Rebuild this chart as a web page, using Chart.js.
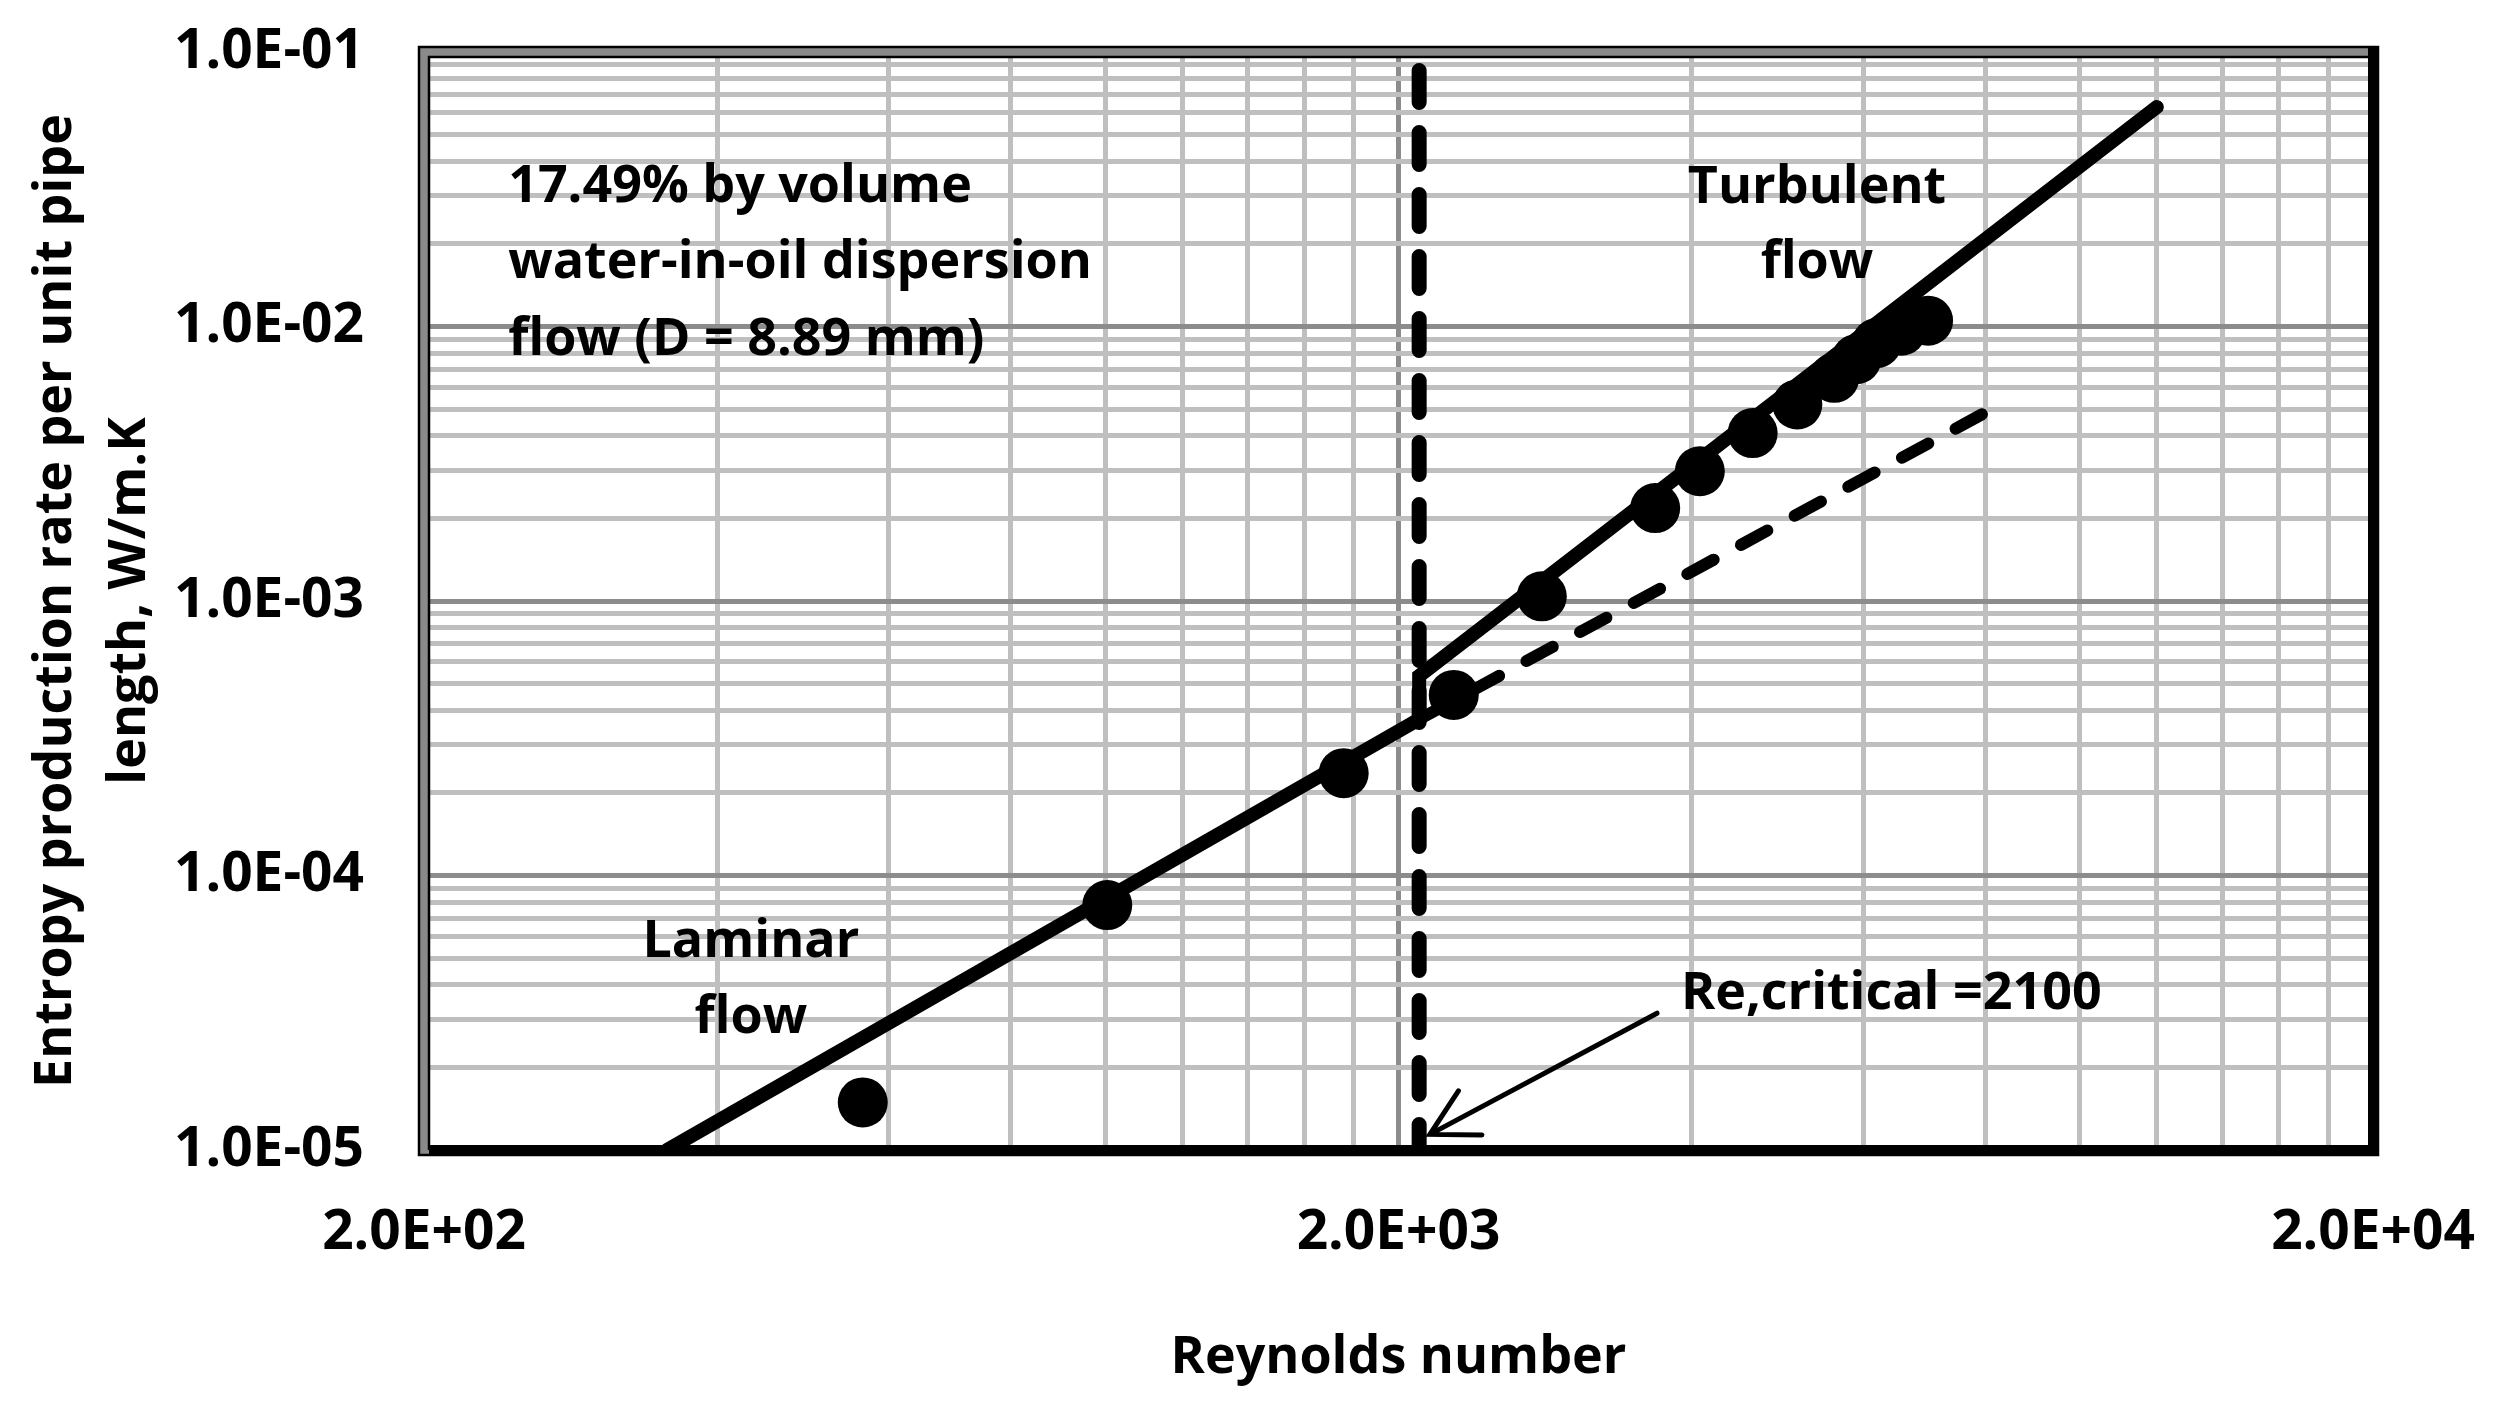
<!DOCTYPE html>
<html>
<head>
<meta charset="utf-8">
<script src="https://cdn.jsdelivr.net/npm/chart.js@4.4.1/dist/chart.umd.min.js"></script>
<style>
  html, body { margin: 0; padding: 0; background: #fff; }
  #wrap { width: 2505px; height: 1421px; }
</style>
</head>
<body>
<div id="wrap"><canvas id="chart" width="2505" height="1421"></canvas></div>
<script>
// measured points (Reynolds number vs entropy production rate)
const reynolds = [564, 1005, 1757, 2279, 2806, 3668, 4076, 4618, 5132, 5600, 5900, 6190, 6560, 6990];
const entropy  = [1.49e-5, 7.8e-5, 2.36e-4, 4.55e-4, 1.04e-3, 2.18e-3, 2.97e-3, 4.09e-3, 5.2e-3, 6.5e-3, 7.6e-3, 8.7e-3, 9.65e-3, 1.05e-2];

// model: laminar up to Re,critical, jump, then turbulent
const modelRe = [355, 2100, 2100, 12000];
const modelS  = [1e-5, 3.71e-4, 5.33e-4, 6.3e-2];

// laminar trend carried on past the transition (dashed)
const lamExtRe = [2100, 8070];
const lamExtS  = [3.71e-4, 4.94e-3];

const reCritical = 2100;
const critS = [1e-1, 1e-5];

// grid / tick values
const xGrid = [200, 400, 600, 800, 1000, 1200, 1400, 1600, 1800,
               2000, 4000, 6000, 8000, 10000, 12000, 14000, 16000, 18000, 20000];
const xLabels = [200, 2000, 20000];
const yGrid = [1e-5, 2e-5, 3e-5, 4e-5, 5e-5, 6e-5, 7e-5, 8e-5, 9e-5,
               1e-4, 2e-4, 3e-4, 4e-4, 5e-4, 6e-4, 7e-4, 8e-4, 9e-4,
               1e-3, 2e-3, 3e-3, 4e-3, 5e-3, 6e-3, 7e-3, 8e-3, 9e-3,
               1e-2, 2e-2, 3e-2, 4e-2, 5e-2, 6e-2, 7e-2, 8e-2, 9e-2, 1e-1];
const yLabels = [1e-5, 1e-4, 1e-3, 1e-2, 1e-1];

const FONT = "'Open Sans', sans-serif";

function sci(v) {
  const [m, e] = v.toExponential(1).split('e');
  const n = parseInt(e, 10);
  return m + 'E' + (n < 0 ? '-' : '+') + String(Math.abs(n)).padStart(2, '0');
}

// text annotations, placed in data units
const notes = [
  { text: '17.49% by volume',        re: 244,  s: 0.0284,  align: 'left' },
  { text: 'water-in-oil dispersion', re: 244,  s: 0.01502, align: 'left' },
  { text: 'flow (D = 8.89 mm)',      re: 244,  s: 7.87e-3, align: 'left' },
  { text: 'Turbulent',               re: 5376, s: 0.0282,  align: 'center' },
  { text: 'flow',                    re: 5376, s: 0.01502, align: 'center' },
  { text: 'Laminar',                 re: 433,  s: 5.05e-5, align: 'center' },
  { text: 'flow',                    re: 433,  s: 2.67e-5, align: 'center' },
  { text: 'Re,critical =2100',       re: 3898, s: 3.27e-5, align: 'left' },
];
const arrow = { from: { re: 3684, s: 3.15e-5 }, to: { re: 2154, s: 1.14e-5 } };

const frame = {
  id: 'frame',
  afterDraw(chart) {
    const { ctx, chartArea: a, scales: { x, y } } = chart;
    const h = 5;
    ctx.save();
    // left + top gray bands with black outline
    ctx.fillStyle = '#8a8a8a';
    ctx.fillRect(a.left - h, a.top - h, 2 * h, a.bottom - a.top + 2 * h);
    ctx.fillRect(a.left - h, a.top - h, a.right - a.left + 2 * h, 2 * h);
    ctx.strokeStyle = '#000';
    ctx.lineWidth = 2.5;
    ctx.strokeRect(a.left - h, a.top - h, a.right - a.left + 2 * h, a.bottom - a.top + 2 * h);
    ctx.beginPath();
    ctx.moveTo(a.left + h, a.bottom);
    ctx.lineTo(a.left + h, a.top + h);
    ctx.lineTo(a.right, a.top + h);
    ctx.stroke();
    // right + bottom black bands
    ctx.fillStyle = '#000';
    ctx.fillRect(a.right - h, a.top - h, 2 * h, a.bottom - a.top + 2 * h);
    ctx.fillRect(a.left + h, a.bottom - h, a.right - a.left, 2 * h);

    // annotations
    ctx.fillStyle = '#000';
    ctx.font = 'bold 52px ' + FONT;
    ctx.textBaseline = 'alphabetic';
    for (const n of notes) {
      ctx.textAlign = n.align;
      ctx.fillText(n.text, x.getPixelForValue(n.re), y.getPixelForValue(n.s));
    }
    // arrow to Re,critical
    const x0 = x.getPixelForValue(arrow.from.re), y0 = y.getPixelForValue(arrow.from.s);
    const x1 = x.getPixelForValue(arrow.to.re),   y1 = y.getPixelForValue(arrow.to.s);
    const ang = Math.atan2(y0 - y1, x0 - x1);
    const len = 52, spread = 0.5;
    ctx.strokeStyle = '#000';
    ctx.lineWidth = 5;
    ctx.lineCap = 'round';
    ctx.beginPath();
    ctx.moveTo(x0, y0); ctx.lineTo(x1, y1);
    ctx.moveTo(x1 + len * Math.cos(ang - spread), y1 + len * Math.sin(ang - spread));
    ctx.lineTo(x1, y1);
    ctx.lineTo(x1 + len * Math.cos(ang + spread), y1 + len * Math.sin(ang + spread));
    ctx.stroke();
    ctx.restore();
  }
};

const pts = (xs, ys) => xs.map((v, i) => ({ x: v, y: ys[i] }));
const noPad = (s) => { s.paddingLeft = 0; s.paddingRight = 0; s.paddingTop = 0; s.paddingBottom = 0; };

new Chart(document.getElementById('chart'), {
  type: 'scatter',
  data: {
    datasets: [
      { label: 'Data', data: pts(reynolds, entropy), backgroundColor: '#000', borderWidth: 0, pointRadius: 25, order: 0 },
      { label: 'Model', data: pts(modelRe, modelS), showLine: true, borderColor: '#000', borderWidth: 14,
        borderCapStyle: 'round', borderJoinStyle: 'miter', pointRadius: 0, order: 1 },
      { label: 'Laminar extended', data: pts(lamExtRe, lamExtS), showLine: true, borderColor: '#000', borderWidth: 12,
        borderDash: [30, 31], borderCapStyle: 'round', pointRadius: 0, order: 2 },
      { label: 'Re critical', data: pts([reCritical, reCritical], critS), showLine: true, borderColor: '#000', borderWidth: 15,
        borderDash: [32, 30], borderDashOffset: 43.5, borderCapStyle: 'round', pointRadius: 0, order: 3 },
    ]
  },
  options: {
    responsive: false,
    animation: false,
    events: [],
    layout: { padding: { left: 0, top: 52, right: 132, bottom: 0 } },
    plugins: { legend: { display: false }, tooltip: { enabled: false } },
    scales: {
      x: {
        type: 'logarithmic', min: 200, max: 20000,
        afterBuildTicks: (s) => { s.ticks = xGrid.map(v => ({ value: v })); },
        afterFit: (s) => { s.height = 271; noPad(s); },
        grid: { color: (c) => xLabels.includes(c.tick && c.tick.value) ? '#8c8c8c' : '#bfbfbf', lineWidth: 5, drawTicks: false },
        border: { display: false },
        ticks: { autoSkip: false, maxRotation: 0, minRotation: 0, padding: 50, color: '#000',
          font: { family: FONT, size: 55, weight: 'bold' },
          callback: (v) => xLabels.includes(v) ? sci(v) : '' },
        title: { display: true, text: 'Reynolds number', color: '#000',
          font: { family: FONT, size: 52, weight: 'bold', lineHeight: 1.2 }, padding: { top: 0, bottom: 32 } },
      },
      y: {
        type: 'logarithmic', min: 1e-5, max: 1e-1,
        afterBuildTicks: (s) => { s.ticks = yGrid.map(v => ({ value: v })); },
        afterFit: (s) => { s.width = 424; noPad(s); },
        grid: { color: (c) => yLabels.includes(c.tick && c.tick.value) ? '#8c8c8c' : '#bfbfbf', lineWidth: 5, drawTicks: false },
        border: { display: false },
        ticks: { autoSkip: false, padding: 60, color: '#000',
          font: { family: FONT, size: 55, weight: 'bold' },
          callback: (v) => yLabels.includes(v) ? sci(v) : '' },
        title: { display: true, text: ['Entropy production rate per unit pipe', 'length, W/m.K'], color: '#000',
          font: { family: FONT, size: 52, weight: 'bold', lineHeight: 1.42 }, padding: { top: 19, bottom: 0 } },
      }
    }
  },
  plugins: [frame]
});
</script>
</body>
</html>
